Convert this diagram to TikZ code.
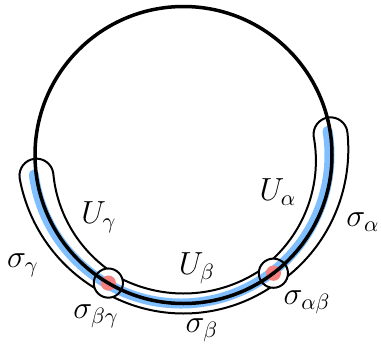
\documentclass[tikz,border=0pt]{standalone}
\definecolor{bandblue}{HTML}{80BFFF}
\definecolor{dotred}{HTML}{F47F7F}
\begin{document}
\begin{tikzpicture}[x=0.5pt,y=0.5pt,
  openset/.style={draw=black, fill=white, line width=1pt, line join=round},
  bandwhite/.style={white, line width=6pt, line cap=round},
  band/.style={bandblue, line width=5pt, line cap=round},
  reddot/.style={fill=dotred, draw=none},
  ring/.style={draw=black, line width=1pt},
  lbl/.style={inner sep=0pt, font=\Large, scale=1.11}]
\useasboundingbox (0,0) rectangle (381,345);
\begin{scope}[shift={(183.5,190)}]
  % open set U_gamma
  \path[openset] plot[domain=188:239.6, samples=50] (\x:{148.5+17-6*(\x-188)/51.6})
     arc[start angle=239.6, end angle=419.6, radius=5.5pt]
     -- plot[domain=239.6:188, samples=50] (\x:{148.5-17+6*(\x-188)/51.6})
     arc[start angle=368, end angle=548, radius=8.5pt] -- cycle;
  % open set U_beta
  \path[openset] plot[domain=239.6:307.25, samples=50] (\x:158.5)
     arc[start angle=307.25, end angle=487.25, radius=5pt]
     -- plot[domain=307.25:239.6, samples=50] (\x:138.5)
     arc[start angle=419.6, end angle=599.6, radius=5pt] -- cycle;
  % open set U_alpha
  \path[openset] plot[domain=307.25:368, samples=50] (\x:{148.5+11+6*(\x-307.25)/60.75})
     arc[start angle=368, end angle=548, radius=8.5pt]
     -- plot[domain=368:307.25, samples=50] (\x:{148.5-11-6*(\x-307.25)/60.75})
     arc[start angle=487.25, end angle=667.25, radius=5.5pt] -- cycle;
  % white insides of the small rings
  \fill[white] (239.6:148.5) circle[radius=7.3pt];
  \fill[white] (307.25:148.5) circle[radius=7.3pt];
  % blue band
  \begin{scope}[shift={(-2.5,0)}]
    \draw[bandwhite] (187.6:148.5) arc[start angle=187.6, end angle=369.3, radius=74.25pt];
    \draw[band] (187.6:148.5) arc[start angle=187.6, end angle=369.3, radius=74.25pt];
  \end{scope}
  % red dots
  \fill[reddot] (239.6:148.5) circle[radius=3.8pt];
  \fill[reddot] (307.25:148.5) circle[radius=3.8pt];
  % main circle
  \draw[line width=1.75pt] (0,0) circle[radius=74.25pt];
  % small rings
  \draw[ring] (239.6:148.5) circle[radius=7.3pt];
  \draw[ring] (307.25:148.5) circle[radius=7.3pt];
\end{scope}
\node[lbl] (Ug) at (99,128) {$U_\gamma$};
\node[lbl] (Ub) at (197,77) {$U_\beta$};
\node[lbl] (Ua) at (278,153) {$U_\alpha$};
\node[lbl] (sa) at (363,123) {$\sigma_\alpha$};
\node[lbl] (sab) at (307,43) {$\sigma_{\alpha\beta}$};
\node[lbl] (sb) at (202,15) {$\sigma_\beta$};
\node[lbl] (sbg) at (96,29) {$\sigma_{\beta\gamma}$};
\node[lbl] (sg) at (23,80) {$\sigma_\gamma$};
\end{tikzpicture}
\end{document}
